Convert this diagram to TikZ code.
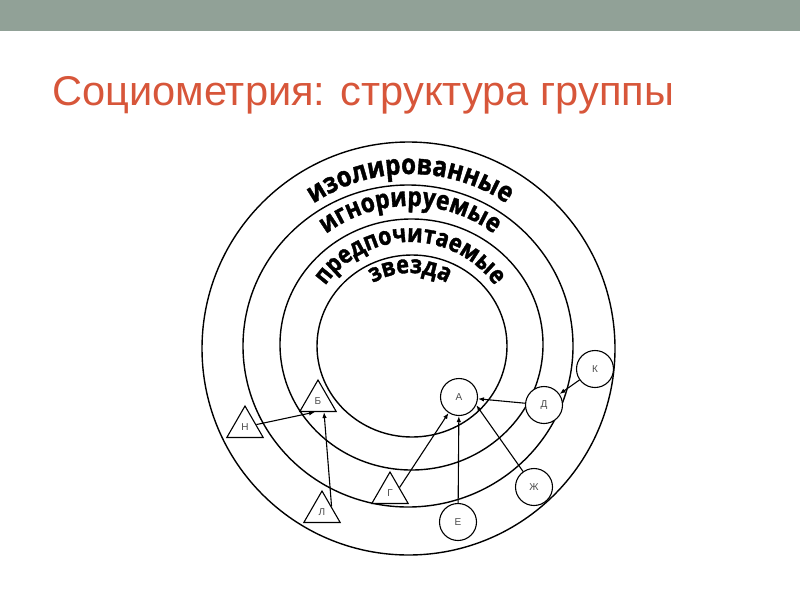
\documentclass[tikz,border=0pt]{standalone}
\usepackage{fontspec}
\setmainfont{Liberation Sans}
\newfontfamily\ringfont{Open Sans}[FakeStretch=0.86, BoldFeatures={FakeBold=1.4}]
\usetikzlibrary{arrows.meta,shapes.geometric,decorations.text}

\definecolor{barcolor}{RGB}{145,161,151}
\definecolor{titlecolor}{RGB}{215,86,58}

\tikzset{
    ring/.style={line width=1.4pt},
    ringlabel/.style 2 args={decorate, decoration={text along path, text align=center,
        text={|\ringfont\bfseries\fontsize{#1}{#1}\selectfont|#2}}},
    member/.style={draw, fill=white, circle, minimum size=37pt, inner sep=0pt,
        line width=1.1pt, font=\fontsize{10}{10}\selectfont, text=black!70},
    outsider/.style={draw, fill=white, regular polygon, regular polygon sides=3,
        minimum size=42pt, inner sep=0pt, line width=1.1pt,
        font=\fontsize{10}{10}\selectfont, text=black!70},
    choice/.style={-{Latex[length=6pt,width=4.5pt]}, line width=1.1pt}
}

\begin{document}
\begin{tikzpicture}[x=1pt,y=1pt]
    \useasboundingbox (0,0) rectangle (800,-600);

    % Title bar and title
    \fill[barcolor] (0,0) rectangle (800,-31);
    \node[anchor=base west, inner sep=0pt, text=titlecolor, font=\fontsize{41.6}{42}\selectfont]
        (title) at (52,-105) {Социометрия: структура группы};

    % Rings (outer to inner)
    \foreach \cx/\cy/\rx/\ry in {408.5/348.5/206.5/206.5, 408/346/165/161,
                                 411.5/344.5/131.5/125.5, 412/346/95/91} {
        \draw[ring] (\cx,-\cy) ellipse [x radius=\rx, y radius=\ry];
    }

    % Ring names
    \path[ringlabel={28}{изолированные}] (410,-346) ++(180:172) arc[start angle=180, end angle=0, radius=172];
    \path[ringlabel={26.5}{игнорируемые}] (410,-346) ++(180:140) arc[start angle=180, end angle=0, radius=140];
    \path[ringlabel={25}{предпочитаемые}] (410,-346) ++(180:104) arc[start angle=180, end angle=0, radius=104];
    \path[ringlabel={25}{звезда}] (410,-346) ++(180:73) arc[start angle=180, end angle=0, radius=73];

    % Group members
    \foreach \name/\lbl/\x/\y in {a/А/459/397, d/Д/544/405, k/К/595/369,
                                  zh/Ж/534/487, e/Е/458/522} {
        \node[member] (\name) at (\x,-\y) {\lbl};
    }
    \foreach \name/\lbl/\x/\y in {b/Б/318/401, n/Н/245/427, l/Л/322/512, g/Г/390/493} {
        \node[outsider] (\name) at (\x,-\y) {\lbl};
    }

    % Choices
    \draw[choice] (n) -- ([xshift=-3pt]b.south);
    \draw[choice] (l.side 3) -- ([xshift=6pt]b.south);
    \draw[choice] (g.side 3) -- (a);
    \draw[choice] (e) -- (a);
    \draw[choice] (zh) -- (a.-25);
    \draw[choice] (d) -- (a);
    \draw[choice] (k) -- (d);
\end{tikzpicture}
\end{document}
